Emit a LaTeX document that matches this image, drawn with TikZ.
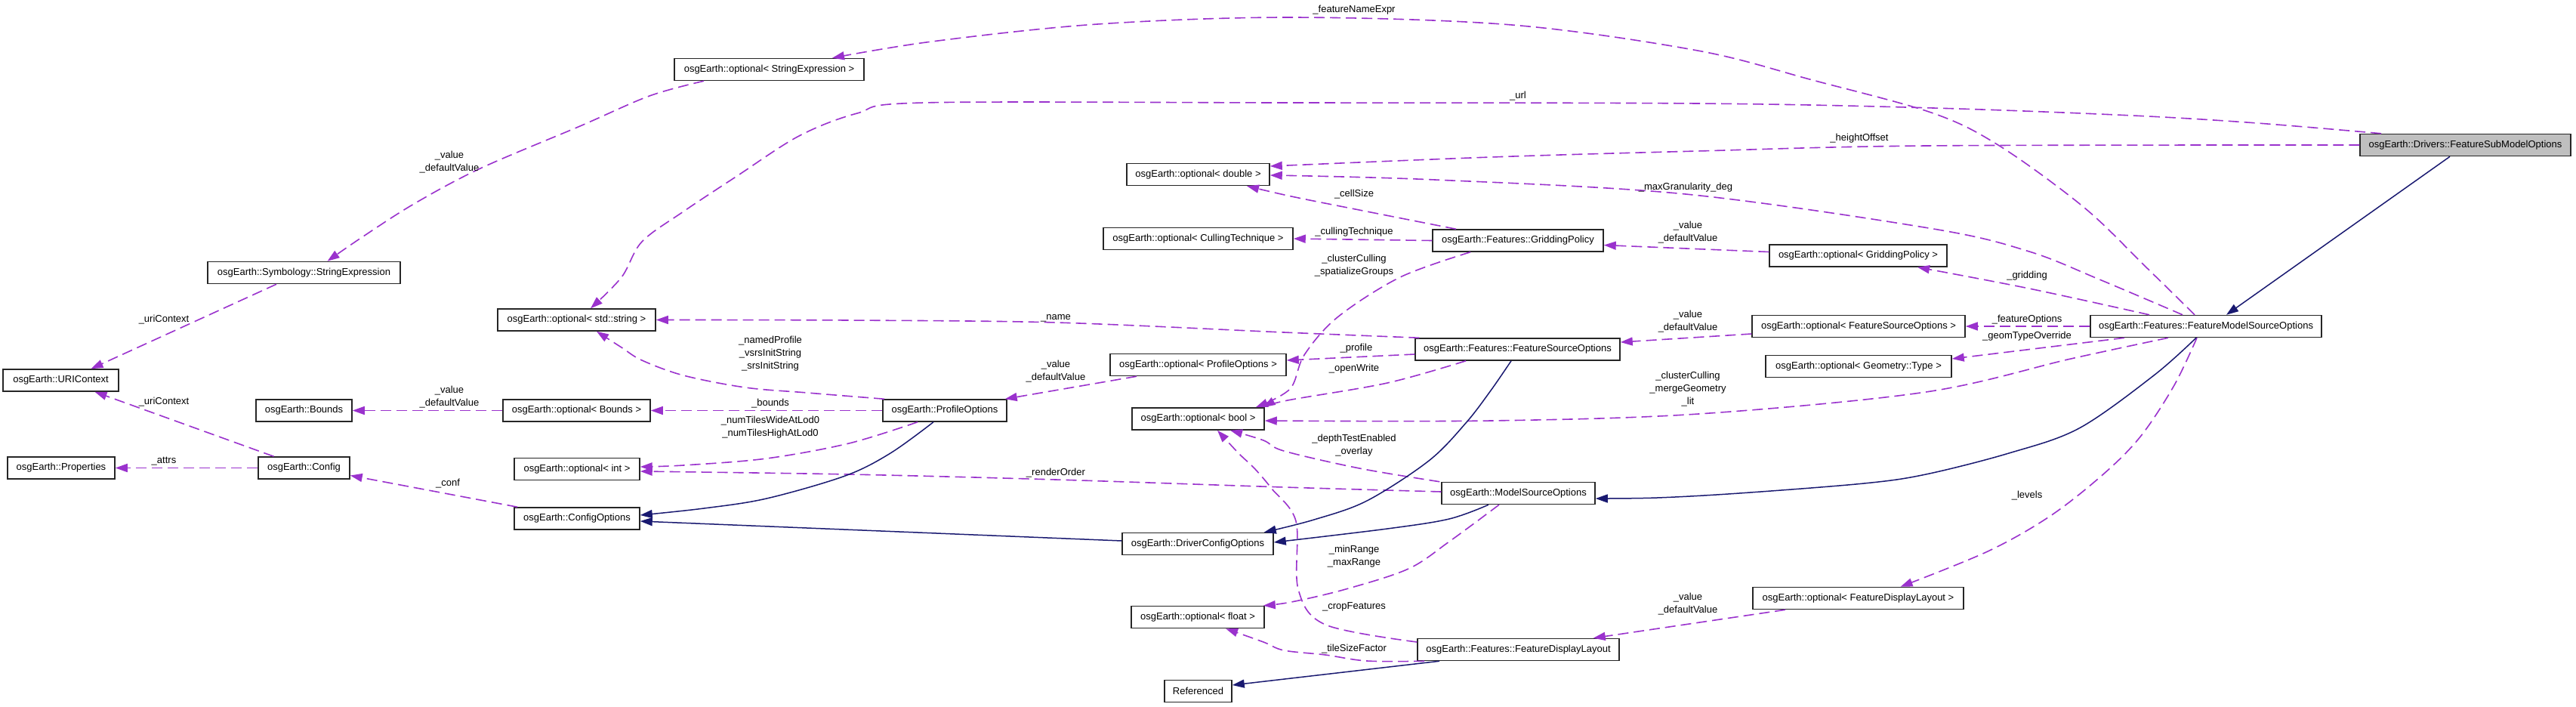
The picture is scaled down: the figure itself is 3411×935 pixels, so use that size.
\documentclass[tikz,border=0pt]{standalone}
\usepackage{fontspec}
\setmainfont{Liberation Sans}
\usetikzlibrary{arrows.meta}
\definecolor{edgepurple}{HTML}{9A32CD}
\definecolor{inhblue}{HTML}{191970}
\definecolor{selgray}{HTML}{BFBFBF}
\begin{document}
\begin{tikzpicture}[x=1pt,y=-1pt,
 box/.style={draw=black!85, line width=1.5pt, fill=white, minimum height=29pt, inner sep=0pt, font=\fontsize{13}{16}\selectfont},
 lbl/.style={inner sep=0pt, align=center, font=\fontsize{13}{17}\selectfont},
 mem/.style={draw=edgepurple, line width=1.6pt, dash pattern=on 14pt off 7pt, -{Triangle[length=16pt,width=11pt]}},
 inh/.style={draw=inhblue, line width=1.5pt, -{Triangle[length=16pt,width=11pt]}}]
\useasboundingbox (0,0) rectangle (3411,935);

% nodes
\node[box, minimum width=251pt] (optse) at (1018.5,92) {osgEarth::optional< StringExpression >};
\node[box, minimum width=189pt] (optdouble) at (1586.5,231) {osgEarth::optional< double >};
\node[box, minimum width=251pt] (optct) at (1586.5,316) {osgEarth::optional< CullingTechnique >};
\node[box, minimum width=226pt] (gp) at (2010,318.5) {osgEarth::Features::GriddingPolicy};
\node[box, minimum width=279pt, fill=selgray] (fsmo) at (3264.5,192) {osgEarth::Drivers::FeatureSubModelOptions};
\node[box, minimum width=255pt] (se) at (402.5,361) {osgEarth::Symbology::StringExpression};
\node[box, minimum width=209pt] (optstring) at (763.5,423.5) {osgEarth::optional< std::string >};
\node[box, minimum width=153pt] (uric) at (80.5,503.5) {osgEarth::URIContext};
\node[box, minimum width=127pt] (bounds) at (402.5,543.5) {osgEarth::Bounds};
\node[box, minimum width=195pt] (optbounds) at (763.5,543.5) {osgEarth::optional< Bounds >};
\node[box, minimum width=142pt] (props) at (81,619.5) {osgEarth::Properties};
\node[box, minimum width=121pt] (config) at (402.5,619.5) {osgEarth::Config};
\node[box, minimum width=166pt] (optint) at (764,621) {osgEarth::optional< int >};
\node[box, minimum width=166pt] (cfgopt) at (764,686.5) {osgEarth::ConfigOptions};
\node[box, minimum width=233pt] (optpo) at (1586.5,483) {osgEarth::optional< ProfileOptions >};
\node[box, minimum width=164pt] (po) at (1251,543.5) {osgEarth::ProfileOptions};
\node[box, minimum width=175pt] (optbool) at (1586.5,554.5) {osgEarth::optional< bool >};
\node[box, minimum width=235pt] (optgp) at (2460.5,338.5) {osgEarth::optional< GriddingPolicy >};
\node[box, minimum width=271pt] (fso) at (2009.5,462.5) {osgEarth::Features::FeatureSourceOptions};
\node[box, minimum width=282pt] (optfso) at (2461,432) {osgEarth::optional< FeatureSourceOptions >};
\node[box, minimum width=246pt] (optgt) at (2461,485) {osgEarth::optional< Geometry::Type >};
\node[box, minimum width=306pt] (fmso) at (2921,432) {osgEarth::Features::FeatureModelSourceOptions};
\node[box, minimum width=200pt] (dco) at (1586,720) {osgEarth::DriverConfigOptions};
\node[box, minimum width=176pt] (optfloat) at (1586,817) {osgEarth::optional< float >};
\node[box, minimum width=89pt] (ref) at (1586.5,915) {Referenced};
\node[box, minimum width=203pt] (mso) at (2010.5,653) {osgEarth::ModelSourceOptions};
\node[box, minimum width=267pt] (fdl) at (2010.5,860) {osgEarth::Features::FeatureDisplayLayout};
\node[box, minimum width=279pt] (optfdl) at (2460.5,792) {osgEarth::optional< FeatureDisplayLayout >};

% member (purple dashed) edges
\draw[mem] plot[smooth,tension=0.55] coordinates {([xshift=-15pt]fmso.north) (2840,352) (2760,275) (2649,194) (2560,150) (2400,106) (2248,67) (2002,33) (1710,23) (1453,32) (1234,55) ([xshift=83.5pt]optse.north)};
\draw[mem] plot[smooth,tension=0.55] coordinates {([xshift=-111.5pt]fsmo.north) (2989,163) (2824,153) (2560,143) (2248,137) (1700,136) (1223,136) (1135,150) (1058,180) (976,233) (905,280) (850,320) (823,367) ([xshift=18.5pt]optstring.north)};
\draw[mem] plot[smooth,tension=0.55] coordinates {(fsmo.west) (2550,193) (2248,200) (1974,208) ([yshift=11pt]optdouble.east)};
\draw[mem] plot[smooth,tension=0.55] coordinates {([xshift=-31pt]fmso.north) (2780,370) (2687,333) (2560,303) (2232,257) (1900,238) ([yshift=-1pt]optdouble.east)};
\draw[mem] plot[smooth,tension=0.55] coordinates {([xshift=-82pt]gp.north) (1810,280) (1710,260) ([xshift=64.5pt]optdouble.south)};
\draw[mem] (gp.west) -- (optct.east);
\draw[mem] ([yshift=5pt]optgp.west) -- ([yshift=-6pt]gp.east);
\draw[mem] plot[smooth,tension=0.55] coordinates {([xshift=-75pt]fmso.north) (2687,382) ([xshift=78.5pt]optgp.south)};
\draw[mem] plot[smooth,tension=0.55] coordinates {([xshift=-63pt]gp.south) (1854,367) (1771,420) (1727,470) (1708,515) ([xshift=-12pt]optbool.north east)};
\draw[mem] plot[smooth,tension=0.55] coordinates {([xshift=6pt]fso.north west) (1700,440) (1398,427) (1124,424) (optstring.east)};
\draw[mem] ([yshift=-6.5pt]fso.west) -- ([yshift=6pt]optpo.east);
\draw[mem] plot[smooth,tension=0.55] coordinates {([xshift=-68.5pt]fso.south) (1837,507) (1705,530) ([xshift=-2pt]optbool.north east)};
\draw[mem] ([yshift=-10pt]optfso.west) -- ([yshift=9.5pt]fso.east);
\draw[mem] (fmso.west) -- (optfso.east);
\draw[mem] ([xshift=-108pt]fmso.south) -- ([yshift=10pt]optgt.east);
\draw[mem] plot[smooth,tension=0.55] coordinates {([xshift=-50pt]fmso.south) (2742,475) (2550,519) (2249,548) (1974,557) ([yshift=-2.5pt]optbool.east)};
\draw[mem] plot[smooth,tension=0.55] coordinates {([xshift=-80pt]po.north) (1069,520) (987,513) (905,497) (850,477) (823,460) ([xshift=26.5pt]optstring.south)};
\draw[mem] ([xshift=-81.5pt]optpo.south) -- ([xshift=-3pt]po.north east);
\draw[mem] (po.west) -- (optbounds.east);
\draw[mem] plot[smooth,tension=0.55] coordinates {([xshift=-36pt]po.south) (1124,587) (1015,607) (905,616) ([yshift=3pt]optint.east)};
\draw[mem] (optbounds.west) -- (bounds.east);
\draw[mem] plot[smooth,tension=0.55] coordinates {([yshift=2pt]mso.west) (1700,645) (1398,635) (1124,628) ([yshift=-3pt]optint.east)};
\draw[mem] ([xshift=-36.5pt]se.south) -- ([xshift=40pt]uric.north);
\draw[mem] plot[smooth,tension=0.55] coordinates {([xshift=-86.5pt]optse.south) (860,127) (768,167) (636,223) (548,270) (478,315) ([xshift=31pt]se.north)};
\draw[mem] ([xshift=-40pt]config.north) -- ([xshift=45pt]uric.south);
\draw[mem] (config.west) -- (props.east);
\draw[mem] ([xshift=5pt]cfgopt.north west) -- ([yshift=-10pt]config.east);
\draw[mem] plot[smooth,tension=0.55] coordinates {([xshift=-25.5pt]mso.south) (1919,717) (1865,753) (1782,780) (1710,797) ([xshift=-2pt]optfloat.north east)};
\draw[mem] plot[smooth,tension=0.55] coordinates {([xshift=-124.5pt]fdl.south) (1810,875) (1755,867) (1700,861) (1673,850) ([xshift=37pt]optfloat.south)};
\draw[mem] ([xshift=-96.5pt]optfdl.south) -- ([xshift=-35pt]fdl.north east);
\draw[mem] plot[smooth,tension=0.55] coordinates {([xshift=-12pt]fmso.south) (2879,510) (2835,577) (2786,627) (2715,683) (2632,730) ([xshift=56pt]optfdl.north)};
\draw[mem] plot[smooth,tension=0.55] coordinates {([xshift=-2pt]mso.north west) (1800,620) (1700,597) (1673,583) ([xshift=42.5pt]optbool.south)};
\draw[mem] plot[smooth,tension=0.55] coordinates {([yshift=10pt]fdl.west) (1755,827) (1719,780) (1716,690) (1684,647) (1661,620) (1640,600) ([xshift=25.5pt]optbool.south)};

% inheritance (blue) edges
\draw[inh] ([xshift=-20.5pt]fsmo.south) -- ([xshift=27pt]fmso.north);
\draw[inh] plot[smooth,tension=0.55] coordinates {([xshift=-13pt]fmso.south) (2852,497) (2753,567) (2660,600) (2550,628) (2468,640) (2303,653) (2194,659) ([yshift=-7pt]mso.east)};
\draw[inh] plot[smooth,tension=0.55] coordinates {([xshift=-39.5pt]mso.south) (1919,687) (1837,700) ([yshift=2pt]dco.east)};
\draw[inh] plot[smooth,tension=0.55] coordinates {([xshift=-8.5pt]fso.south) (1974,517) (1941,560) (1892,610) (1810,663) (1740,688) ([xshift=-13pt]dco.north east)};
\draw[inh] ([yshift=4pt]dco.west) -- ([yshift=-3.5pt]cfgopt.east);
\draw[inh] plot[smooth,tension=0.55] coordinates {([xshift=-15pt]po.south) (1179,600) (1119,630) (1015,660) (932,673) ([yshift=4.5pt]cfgopt.east)};
\draw[inh] ([xshift=-104.5pt]fdl.south) -- ([yshift=8pt]ref.east);

% labels
\node[lbl] (l1) at (1793,13) {\_featureNameExpr};
\node[lbl] (l2) at (2010,127) {\_url};
\node[lbl] (l3) at (2462,183) {\_heightOffset};
\node[lbl] (l4) at (2232,248) {\_maxGranularity\_deg};
\node[lbl] (l5) at (1793,257) {\_cellSize};
\node[lbl] (l6) at (1793,307) {\_cullingTechnique};
\node[lbl] (l7) at (2235,308) {\_value\\\_defaultValue};
\node[lbl] (l8) at (2684,365) {\_gridding};
\node[lbl] (l9) at (1793,352) {\_clusterCulling\\\_spatializeGroups};
\node[lbl] (l10) at (1398,421) {\_name};
\node[lbl] (l11) at (2235,425.5) {\_value\\\_defaultValue};
\node[lbl] (l12) at (2684,423) {\_featureOptions};
\node[lbl] (l13) at (2684,445) {\_geomTypeOverride};
\node[lbl] (l14) at (1796,461) {\_profile};
\node[lbl] (l15) at (1793,488) {\_openWrite};
\node[lbl] (l16) at (2235,515) {\_clusterCulling\\\_mergeGeometry\\\_lit};
\node[lbl] (l17) at (1020,468) {\_namedProfile\\\_vsrsInitString\\\_srsInitString};
\node[lbl] (l18) at (1398,492) {\_value\\\_defaultValue};
\node[lbl] (l19) at (1020,534) {\_bounds};
\node[lbl] (l20) at (1020,565.5) {\_numTilesWideAtLod0\\\_numTilesHighAtLod0};
\node[lbl] (l21) at (1398,626) {\_renderOrder};
\node[lbl] (l22) at (1793,590) {\_depthTestEnabled\\\_overlay};
\node[lbl] (l23) at (1793,736.5) {\_minRange\\\_maxRange};
\node[lbl] (l24) at (1793,803) {\_cropFeatures};
\node[lbl] (l25) at (2235,799.5) {\_value\\\_defaultValue};
\node[lbl] (l26) at (1793,859) {\_tileSizeFactor};
\node[lbl] (l27) at (2684,656) {\_levels};
\node[lbl] (l28) at (217,423) {\_uriContext};
\node[lbl] (l29) at (595,215) {\_value\\\_defaultValue};
\node[lbl] (l30) at (595,525.5) {\_value\\\_defaultValue};
\node[lbl] (l31) at (217,532) {\_uriContext};
\node[lbl] (l32) at (217,611) {\_attrs};
\node[lbl] (l33) at (593,640) {\_conf};
\end{tikzpicture}
\end{document}
